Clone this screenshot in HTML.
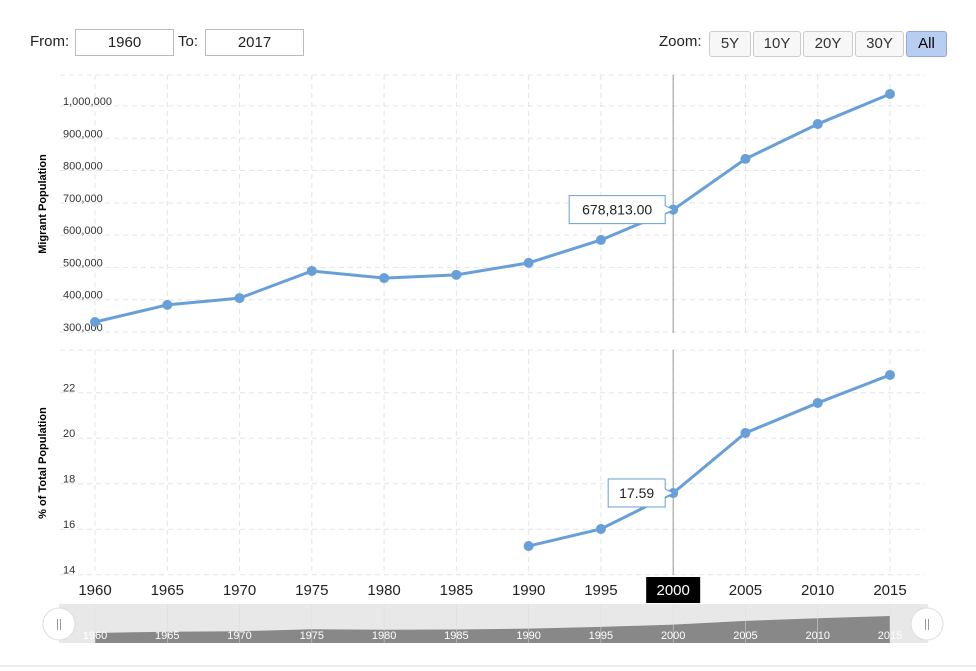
<!DOCTYPE html>
<html><head><meta charset="utf-8"><style>
body{margin:0;background:#fff;font-family:"Liberation Sans",sans-serif;}
#wrap{position:relative;width:976px;height:671px;overflow:hidden;}
.inp{position:absolute;top:29px;height:25px;border:1px solid #bbb;font-size:15px;text-align:center;line-height:25px;color:#222;}
.lbl{position:absolute;top:33px;font-size:15px;color:#222;}
.zb{position:absolute;top:31px;height:24px;border:1px solid #ccc;border-radius:3px;background:#f7f7f7;font-size:15px;color:#333;text-align:center;line-height:24px;}
</style></head><body>
<div id="wrap">
<span class="lbl" style="left:30px">From:</span>
<div class="inp" style="left:75px;width:97px">1960</div>
<span class="lbl" style="left:178px">To:</span>
<div class="inp" style="left:205px;width:97px">2017</div>
<span class="lbl" style="left:659px">Zoom:</span>
<div class="zb" style="left:709px;width:40px">5Y</div>
<div class="zb" style="left:753px;width:46px">10Y</div>
<div class="zb" style="left:803px;width:48px">20Y</div>
<div class="zb" style="left:855px;width:47px">30Y</div>
<div class="zb" style="left:906px;width:39px;background:#b8cdf2;border-color:#8ea9d8;color:#000">All</div>
<svg id="svg" width="976" height="671" style="position:absolute;left:0;top:0"></svg>
</div>
<script>
const years=[1960,1965,1970,1975,1980,1985,1990,1995,2000,2005,2010,2015];
const migrants=[331000,384000,405000,489000,467000,477000,514000,585000,678813,836000,944000,1037000];
const pctYears=[1990,1995,2000,2005,2010,2015];
const pctValues=[15.26,16.01,17.59,20.23,21.55,22.78];
const topTicks=[300000,400000,500000,600000,700000,800000,900000,1000000];
const botTicks=[14,16,18,20,22];
const NS='http://www.w3.org/2000/svg';
const svg=document.getElementById('svg');
function el(t,a,p){const e=document.createElementNS(NS,t);for(const k in a)e.setAttribute(k,a[k]);(p||svg).appendChild(e);return e;}
const X=y=>95+(y-1960)*(795/55);
const YT=v=>332-(v-300000)/100000*32.29;
const YB=v=>574.7-(v-14)*22.75;
const L=60,R=925;
for(let y=1955;y<=2015;y+=5){const x=X(y);if(x<L)continue;
 let g=el('line',{x1:x,x2:x,y1:75,y2:333,stroke:'#e4e4e4','stroke-dasharray':'5,4'});
 g=el('line',{x1:x,x2:x,y1:350,y2:575,stroke:'#e4e4e4','stroke-dasharray':'5,4'});}
for(let v=300000;v<=1100000;v+=100000){const y=YT(v);if(y<74)continue;
 const g=el('line',{x1:L,x2:R,y1:y,y2:y,stroke:'#e4e4e4','stroke-dasharray':'5,4'});}
el('line',{x1:L,x2:R,y1:75,y2:75,stroke:'#e4e4e4','stroke-dasharray':'5,4'});
for(let v=14;v<=23;v+=2){const y=YB(v);
 const g=el('line',{x1:L,x2:R,y1:y,y2:y,stroke:'#e4e4e4','stroke-dasharray':'5,4'});}
el('line',{x1:L,x2:R,y1:350,y2:350,stroke:'#e4e4e4','stroke-dasharray':'5,4'});
topTicks.forEach(v=>{const t=el('text',{x:63,y:YT(v)-1,'font-size':11,fill:'#333'});t.textContent=v.toLocaleString('en-US');});
botTicks.forEach(v=>{const t=el('text',{x:63,y:YB(v)-1,'font-size':11,fill:'#333'});t.textContent=v;});
let t=el('text',{x:0,y:0,'font-size':11,'font-weight':'bold',transform:'translate(46,204) rotate(-90)','text-anchor':'middle'});t.textContent='Migrant Population';
t=el('text',{x:0,y:0,'font-size':11,'font-weight':'bold',transform:'translate(46,463) rotate(-90)','text-anchor':'middle'});t.textContent='% of Total Population';
el('line',{x1:X(2000),x2:X(2000),y1:75,y2:333,stroke:'#999'});
el('line',{x1:X(2000),x2:X(2000),y1:350,y2:575,stroke:'#999'});
let p=el('polyline',{points:years.map((y,i)=>X(y)+','+YT(migrants[i])).join(' '),fill:'none',stroke:'#679fd8','stroke-width':3});
years.forEach((y,i)=>{const c=el('circle',{cx:X(y),cy:YT(migrants[i]),r:5,fill:'#679fd8'});});
p=el('polyline',{points:pctYears.map((y,i)=>X(y)+','+YB(pctValues[i])).join(' '),fill:'none',stroke:'#679fd8','stroke-width':3});
pctYears.forEach((y,i)=>{const c=el('circle',{cx:X(y),cy:YB(pctValues[i]),r:5,fill:'#679fd8'});});
function tip(x,y,w,txt,name){const g=el('g',{});
 el('path',{d:`M${x-w-8},${y-14} h${w} v10 l8,4 l-8,4 v10 h${-w} z`,fill:'#fff',stroke:'#679fd8'},g);
 const tt=el('text',{x:x-8-w/2,y:y+5,'font-size':14,'text-anchor':'middle',fill:'#222'},g);tt.textContent=txt;}
tip(X(2000),YT(migrants[8]),96,'678,813.00','top-tooltip');
tip(X(2000),YB(pctValues[2]),57,'17.59','bottom-tooltip');
years.forEach(y=>{if(y===2000){el('rect',{x:X(y)-27,y:577,width:54,height:26,fill:'#000'});}
 const tx=el('text',{x:X(y),y:595,'font-size':15,'text-anchor':'middle',fill:y===2000?'#fff':'#222'});tx.textContent=y;});
const nav=el('rect',{x:59,y:604,width:869,height:39,fill:'#e8e8e8'});
const NY=v=>633-(v-331000)*17/706000;
let d='M'+X(1960)+',643 '+years.map((y,i)=>'L'+X(y)+','+NY(migrants[i])).join(' ')+' L'+X(2015)+',643 Z';
const na=el('path',{d:d,fill:'#888'});
years.forEach(y=>{el('line',{x1:X(y),x2:X(y),y1:604,y2:643,stroke:'#ddd','stroke-width':0.5});const tx=el('text',{x:X(y),y:639,'font-size':11,'text-anchor':'middle',fill:'#fff'});tx.textContent=y;});
[59,927].forEach((x,i)=>{const g=el('g',{});
 el('circle',{cx:x,cy:624,r:16,fill:'#fff',stroke:'#ddd'},g);
 el('line',{x1:x-1.5,x2:x-1.5,y1:619,y2:630,stroke:'#999'},g);el('line',{x1:x+1.5,x2:x+1.5,y1:619,y2:630,stroke:'#999'},g);});
el('line',{x1:0,x2:976,y1:666,y2:666,stroke:'#ddd'});
</script>
</body></html>
